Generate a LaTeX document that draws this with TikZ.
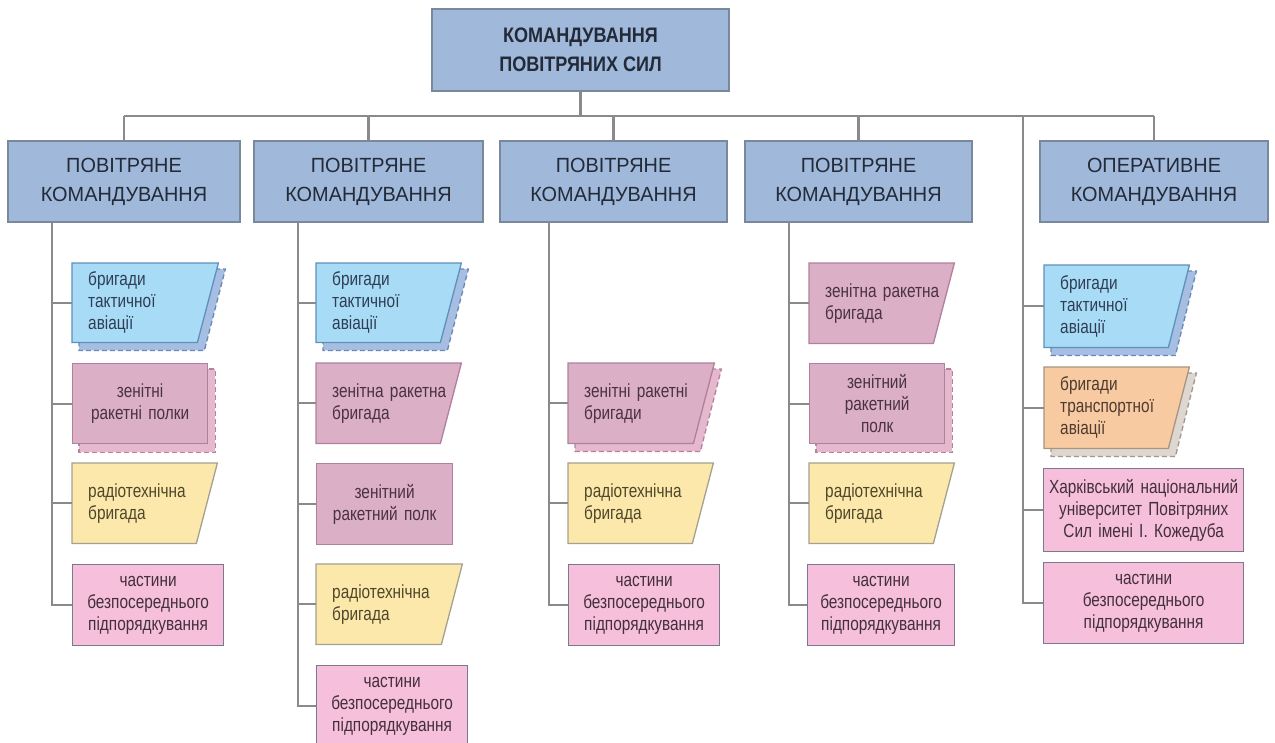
\documentclass[tikz,border=0pt]{standalone}
\usepackage{fontspec}
\setmainfont{Liberation Sans}
\newfontfamily\headfamily[FakeStretch=0.86]{Liberation Sans}
\newfontfamily\lvlfamily[FakeStretch=0.97]{Liberation Sans}
\newfontfamily\unitfamily[FakeStretch=0.81]{Liberation Sans}
\usetikzlibrary{calc}
\pgfdeclarelayer{shadow}
\pgfdeclarelayer{fillbg}
\pgfsetlayers{shadow,fillbg,main}

% palette
\definecolor{lvlfill}{HTML}{A0B8DA}
\definecolor{lvlline}{HTML}{7A889C}
\definecolor{lvltext}{HTML}{232A38}
\definecolor{wirecol}{HTML}{8A8A8A}
\definecolor{skyfill}{HTML}{A8DCF6}
\definecolor{skyline}{HTML}{5E90BA}
\definecolor{skytext}{HTML}{2E3E54}
\definecolor{skyshadefill}{HTML}{A6BEE2}
\definecolor{skyshadeline}{HTML}{6A88B8}
\definecolor{mauvefill}{HTML}{DBAFC6}
\definecolor{mauveline}{HTML}{B0809C}
\definecolor{mauvetext}{HTML}{4A3242}
\definecolor{mauveshadefill}{HTML}{E6B8CE}
\definecolor{mauveshadeline}{HTML}{B482A0}
\definecolor{sandfill}{HTML}{FCE8AA}
\definecolor{sandline}{HTML}{A4A28E}
\definecolor{sandtext}{HTML}{4E482A}
\definecolor{rosefill}{HTML}{F6BFDB}
\definecolor{roseline}{HTML}{7C7890}
\definecolor{rosetext}{HTML}{42303C}
\definecolor{peachfill}{HTML}{F7CAA2}
\definecolor{peachline}{HTML}{A89480}
\definecolor{peachtext}{HTML}{4E3C2E}
\definecolor{peachshadefill}{HTML}{DED7D0}
\definecolor{peachshadeline}{HTML}{A09890}

\tikzset{
  wire/.style={draw=wirecol, line width=2.2pt},
  lvl/.style={rectangle, draw=lvlline, fill=lvlfill, line width=1.4pt,
    minimum height=81pt, inner sep=0pt, align=center, text=lvltext,
    font=\lvlfamily\fontsize{20.5}{29}\selectfont},
  headbox/.style={lvl, minimum height=82pt,
    font=\headfamily\bfseries\fontsize{21}{29}\selectfont},
  unit/.style={rectangle, anchor=north west, inner ysep=0pt,
    font=\unitfamily\fontsize{19}{22}\selectfont},
  lefttext/.style={unit, inner xsep=16pt, align=left},
  midtext/.style={unit, inner xsep=4pt, align=center},
  sky/.style={draw=skyline, fill=skyfill, line width=1.3pt},
  skyshade/.style={draw=skyshadeline, fill=skyshadefill, line width=1.3pt,
    dash pattern=on 5pt off 3pt},
  mauve/.style={draw=mauveline, fill=mauvefill, line width=1.3pt},
  mauveshade/.style={draw=mauveshadeline, fill=mauveshadefill, line width=1.3pt,
    dash pattern=on 5pt off 3pt},
  sand/.style={draw=sandline, fill=sandfill, line width=1.3pt},
  rose/.style={draw=roseline, fill=rosefill, line width=1.3pt},
  peach/.style={draw=peachline, fill=peachfill, line width=1.3pt},
  peachshade/.style={draw=peachshadeline, fill=peachshadefill, line width=1.3pt,
    dash pattern=on 5pt off 3pt},
}

% box with a slanted right side, drawn behind node #1 in style #2
\newcommand\slantbox[2]{%
  \begin{pgfonlayer}{fillbg}
    \path[#2] (#1.north west) -- (#1.north east)
      -- ([xshift=-21pt]#1.south east) -- (#1.south west) -- cycle;
  \end{pgfonlayer}}
% dashed copy of a slanted box, set off to the lower right
\newcommand\slantshade[2]{%
  \begin{pgfonlayer}{shadow}
    \path[#2] ([xshift=7pt,yshift=-6pt]#1.north west)
      -- ([xshift=7pt,yshift=-6pt]#1.north east)
      -- ([xshift=-14pt,yshift=-8pt]#1.south east)
      -- ([xshift=7pt,yshift=-8pt]#1.south west) -- cycle;
  \end{pgfonlayer}}
% dashed copy of a plain box
\newcommand\rectshade[2]{%
  \begin{pgfonlayer}{shadow}
    \path[#2] ([xshift=7pt,yshift=-6pt]#1.north west)
      rectangle ([xshift=7pt,yshift=-8pt]#1.south east);
  \end{pgfonlayer}}

\begin{document}
\begin{tikzpicture}[x=1pt,y=-1pt]
\useasboundingbox (0,0) rectangle (1275,742);

% command levels
\node[headbox, minimum width=297pt] (top) at (580.5,50) {КОМАНДУВАННЯ\\ПОВІТРЯНИХ СИЛ};
\node[lvl, minimum width=232pt] (b1) at (124,181.5) {ПОВІТРЯНЕ\\КОМАНДУВАННЯ};
\node[lvl, minimum width=229pt] (b2) at (368.5,181.5) {ПОВІТРЯНЕ\\КОМАНДУВАННЯ};
\node[lvl, minimum width=227pt] (b3) at (613.5,181.5) {ПОВІТРЯНЕ\\КОМАНДУВАННЯ};
\node[lvl, minimum width=227pt] (b4) at (858.5,181.5) {ПОВІТРЯНЕ\\КОМАНДУВАННЯ};
\node[lvl, minimum width=228pt] (b5) at (1154,181.5) {ОПЕРАТИВНЕ\\КОМАНДУВАННЯ};

% column 1
\node[lefttext, text=skytext, minimum width=146pt, text width=114pt, minimum height=79pt] (c11) at (72,263) {бригади\\тактичної\\авіації};
\node[midtext, mauve, text=mauvetext, minimum width=135pt, text width=127pt, minimum height=80pt] (c12) at (72,363) {зенітні\\ракетні полки};
\node[lefttext, text=sandtext, minimum width=145pt, text width=113pt, minimum height=80pt] (c13) at (72,463) {радіотехнічна\\бригада};
\node[midtext, rose, text=rosetext, minimum width=151pt, text width=143pt, minimum height=81pt] (c14) at (72,564) {частини\\безпосереднього\\підпорядкування};

% column 2
\node[lefttext, text=skytext, minimum width=145pt, text width=113pt, minimum height=79pt] (c21) at (316,263) {бригади\\тактичної\\авіації};
\node[lefttext, text=mauvetext, minimum width=145pt, text width=113pt, minimum height=80pt] (c22) at (316,363) {зенітна~ракетна\\бригада};
\node[midtext, mauve, text=mauvetext, minimum width=136pt, text width=128pt, minimum height=81pt] (c23) at (316,463) {зенітний\\ракетний полк};
\node[lefttext, text=sandtext, minimum width=146pt, text width=114pt, minimum height=80pt] (c24) at (316,564) {радіотехнічна\\бригада};
\node[midtext, rose, text=rosetext, minimum width=151pt, text width=143pt, minimum height=81pt] (c25) at (316,665) {частини\\безпосереднього\\підпорядкування};

% column 3
\node[lefttext, text=mauvetext, minimum width=146pt, text width=114pt, minimum height=80pt] (c31) at (568,363) {зенітні~ракетні\\бригади};
\node[lefttext, text=sandtext, minimum width=145pt, text width=113pt, minimum height=80pt] (c32) at (568,463) {радіотехнічна\\бригада};
\node[midtext, rose, text=rosetext, minimum width=151pt, text width=143pt, minimum height=81pt] (c33) at (568,564) {частини\\безпосереднього\\підпорядкування};

% column 4
\node[lefttext, text=mauvetext, minimum width=145pt, text width=113pt, minimum height=80pt] (c41) at (809,263) {зенітна~ракетна\\бригада};
\node[midtext, mauve, text=mauvetext, minimum width=135pt, text width=127pt, minimum height=80pt] (c42) at (809,363) {зенітний\\ракетний\\полк};
\node[lefttext, text=sandtext, minimum width=145pt, text width=113pt, minimum height=80pt] (c43) at (809,463) {радіотехнічна\\бригада};
\node[midtext, rose, text=rosetext, minimum width=147pt, text width=139pt, minimum height=81pt] (c44) at (807,564) {частини\\безпосереднього\\підпорядкування};

% column 5
\node[lefttext, text=skytext, minimum width=145pt, text width=113pt, minimum height=82pt] (c51) at (1044,265) {бригади\\тактичної\\авіації};
\node[lefttext, text=peachtext, minimum width=145pt, text width=113pt, minimum height=81pt] (c52) at (1044,367) {бригади\\транспортної\\авіації};
\node[midtext, rose, text=rosetext, inner xsep=0pt, minimum width=200pt, text width=200pt, minimum height=83pt] (c53) at (1043,468) {Харківський національний\\університет Повітряних\\Сил імені І. Кожедуба};
\node[midtext, rose, text=rosetext, minimum width=200pt, text width=192pt, minimum height=81pt] (c54) at (1043,562) {частини\\безпосереднього\\підпорядкування};

% slanted boxes and their dashed copies
\slantbox{c11}{sky}      \slantshade{c11}{skyshade}
\slantbox{c13}{sand}
\slantbox{c21}{sky}      \slantshade{c21}{skyshade}
\slantbox{c22}{mauve}
\slantbox{c24}{sand}
\slantbox{c31}{mauve}    \slantshade{c31}{mauveshade}
\slantbox{c32}{sand}
\slantbox{c41}{mauve}
\slantbox{c43}{sand}
\slantbox{c51}{sky}      \slantshade{c51}{skyshade}
\slantbox{c52}{peach}    \slantshade{c52}{peachshade}
\rectshade{c12}{mauveshade}
\rectshade{c42}{mauveshade}

% bus from the top command
\coordinate (bus) at (0,116);
\draw[wire] (top.south) -- (top.south |- bus);
\draw[wire] (b1.north |- bus) -- (b5.north |- bus);
\foreach \b in {b1,b2,b3,b4,b5}
  \draw[wire] (\b.north |- bus) -- (\b.north);

% trunks down each column
\coordinate (t1) at (52,222);
\coordinate (t2) at (298,222);
\coordinate (t3) at (549,222);
\coordinate (t4) at (789,222);
\coordinate (t5) at (1023,116);

\draw[wire] (t1) |- (c14.west);
\foreach \c in {c11,c12,c13} \draw[wire] (t1 |- \c.west) -- (\c.west);
\draw[wire] (t2) |- (c25.west);
\foreach \c in {c21,c22,c23,c24} \draw[wire] (t2 |- \c.west) -- (\c.west);
\draw[wire] (t3) |- (c33.west);
\foreach \c in {c31,c32} \draw[wire] (t3 |- \c.west) -- (\c.west);
\draw[wire] (t4) |- (c44.west);
\foreach \c in {c41,c42,c43} \draw[wire] (t4 |- \c.west) -- (\c.west);
\draw[wire] (t5) |- (c54.west);
\foreach \c in {c51,c52,c53} \draw[wire] (t5 |- \c.west) -- (\c.west);
\end{tikzpicture}
\end{document}
